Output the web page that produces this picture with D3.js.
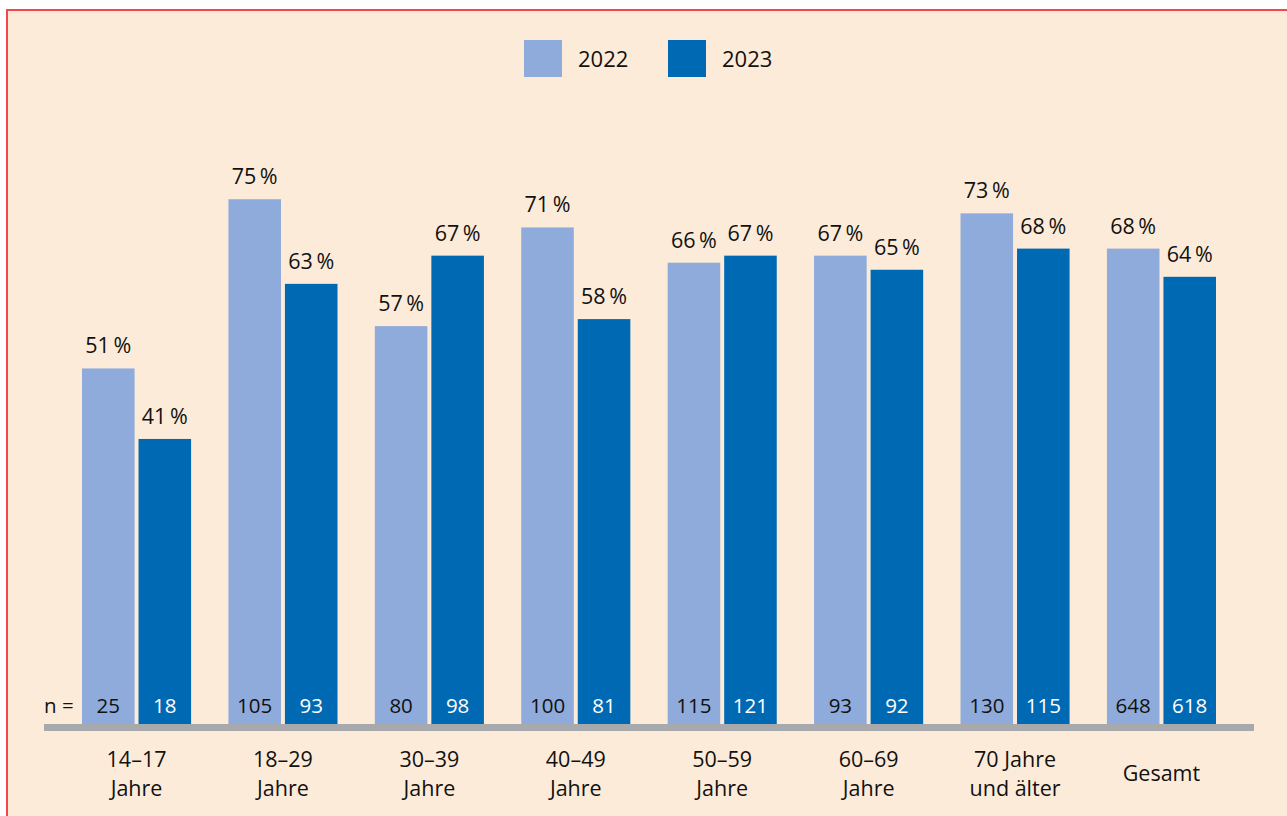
<!DOCTYPE html>
<html>
<head>
<meta charset="utf-8">
<script src="https://cdn.jsdelivr.net/npm/d3@7"></script>
<style>
  html, body { margin: 0; padding: 0; background: #fff; }
  svg { display: block; font-family: "Open Sans", sans-serif; }
</style>
</head>
<body>
<div id="chart"></div>
<script>
// ------------- DATA ---------------------------
var categories = [["14–17", "Jahre"], ["18–29", "Jahre"], ["30–39", "Jahre"], ["40–49", "Jahre"],
                  ["50–59", "Jahre"], ["60–69", "Jahre"], ["70 Jahre", "und älter"], ["Gesamt"]];
var years = ["2022", "2023"];
var values2022 = [51, 75, 57, 71, 66, 67, 73, 68];
var values2023 = [41, 63, 67, 58, 67, 65, 68, 64];
var n2022 = [25, 105, 80, 100, 115, 93, 130, 648];
var n2023 = [18, 93, 98, 81, 121, 92, 115, 618];

var colors = { "2022": "#8eabdb", "2023": "#0069b4" };

var width = 1287, height = 816;

var svg = d3.select("#chart")
    .append("svg")
    .attr("width", width)
    .attr("height", height);

// background + red frame
svg.append("rect")
    .attr("x", 7).attr("y", 10)
    .attr("width", width).attr("height", height)
    .attr("fill", "#fdebd9");
svg.append("path")
    .attr("d", "M7," + height + " V10 H" + width)
    .attr("fill", "none")
    .attr("stroke", "#f2474c")
    .attr("stroke-width", 2);

var x0 = d3.scaleBand()
    .domain(d3.range(categories.length))
    .range([82, 1216])
    .paddingInner(0.255)
    .paddingOuter(0);

var x1 = d3.scaleBand()
    .domain(years)
    .range([0, x0.bandwidth()])
    .paddingInner(0.07);

// zero sits just under the grey axis bar
var y = d3.scaleLinear()
    .domain([0, 100])
    .range([728, 23]);
var axisY = 724;

var rows = categories.map(function (c, i) {
    return {
        i: i,
        label: c,
        bars: [
            { year: "2022", v: values2022[i], n: n2022[i] },
            { year: "2023", v: values2023[i], n: n2023[i] }
        ]
    };
});

var groups = svg.selectAll("g.group")
    .data(rows)
    .enter().append("g")
    .attr("class", "group")
    .attr("transform", function (d) { return "translate(" + x0(d.i) + ",0)"; });

var bar = groups.selectAll("g.bar")
    .data(function (d) { return d.bars; })
    .enter().append("g")
    .attr("class", "bar");

bar.append("rect")
    .attr("x", function (d) { return x1(d.year); })
    .attr("y", function (d) { return y(d.v); })
    .attr("width", x1.bandwidth())
    .attr("height", function (d) { return y(0) - y(d.v); })
    .attr("fill", function (d) { return colors[d.year]; });

// percentage labels
bar.append("text")
    .attr("x", function (d) { return x1(d.year) + x1.bandwidth() / 2; })
    .attr("y", function (d) { return y(d.v) - 15; })
    .attr("text-anchor", "middle")
    .attr("font-size", 21.5)
    .attr("fill", "#111")
    .text(function (d) { return d.v + "\u2009%"; });

// n labels
bar.append("text")
    .attr("x", function (d) { return x1(d.year) + x1.bandwidth() / 2; })
    .attr("y", 713)
    .attr("text-anchor", "middle")
    .attr("font-size", 20.5)
    .attr("fill", function (d) { return d.year === "2023" ? "#fff" : "#111"; })
    .text(function (d) { return d.n; });

// category labels
groups.append("text")
    .attr("text-anchor", "middle")
    .attr("font-size", 21.5)
    .attr("fill", "#111")
    .selectAll("tspan")
    .data(function (d) {
        return d.label.map(function (t, k) { return { t: t, k: k, nl: d.label.length }; });
    })
    .enter().append("tspan")
    .attr("x", x0.bandwidth() / 2)
    .attr("y", function (d) { return d.nl === 1 ? 781 : 767 + d.k * 29; })
    .text(function (d) { return d.t; });

svg.append("text")
    .attr("x", 44).attr("y", 713)
    .attr("font-size", 20.5)
    .attr("fill", "#111")
    .text("n =");

// axis line
svg.append("rect")
    .attr("x", 44).attr("y", axisY)
    .attr("width", 1254 - 44).attr("height", 7)
    .attr("fill", "#a7a9ac");

// legend
var legend = svg.selectAll("g.legend")
    .data(years)
    .enter().append("g")
    .attr("class", "legend")
    .attr("transform", function (d, i) { return "translate(" + (524 + i * 144) + ",40)"; });

legend.append("rect")
    .attr("width", 38).attr("height", 37)
    .attr("fill", function (d) { return colors[d]; });

legend.append("text")
    .attr("x", 54).attr("y", 27)
    .attr("font-size", 22)
    .attr("fill", "#111")
    .text(function (d) { return d; });
</script>
</body>
</html>
